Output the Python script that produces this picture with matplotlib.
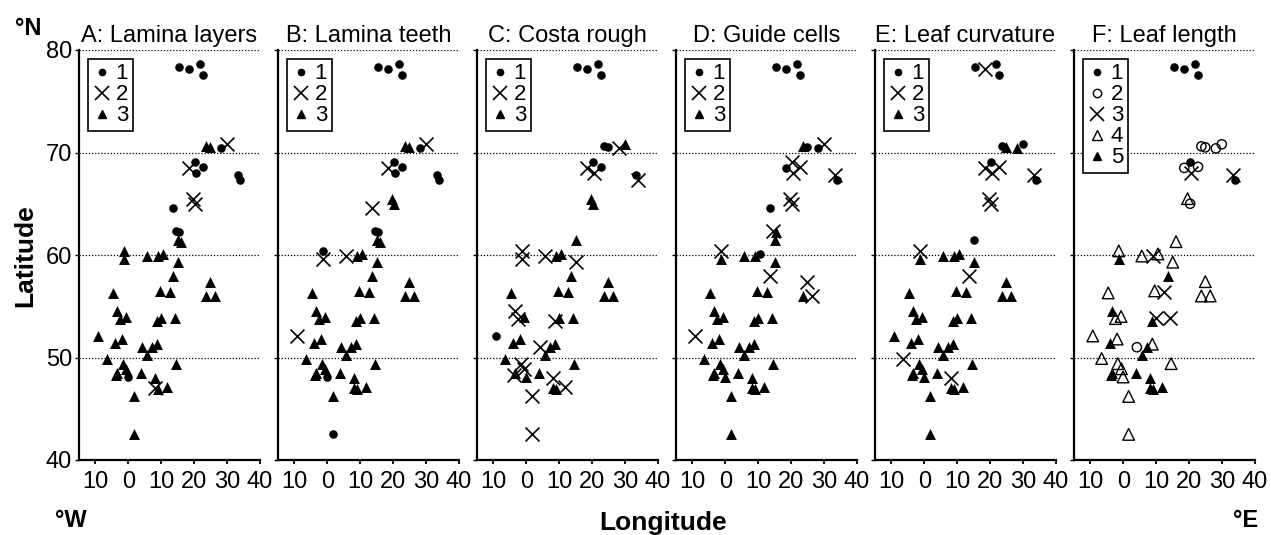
import numpy as np
import matplotlib
matplotlib.use("Agg")
import matplotlib.pyplot as plt
from matplotlib.lines import Line2D

plt.rcParams['font.family'] = ['Liberation Sans', 'DejaVu Sans']

# site positions (same sites in every panel), longitude east is positive
site_lon = [15.3, 18.5, 21.8, 22.7, 23.7, 24.9, 28.1, 29.9, 18.5, 20.4,
            20.6, 22.7, 33.4, 33.8, 19.5, 20.3, 13.7, 14.5, 15.5, 15.0,
            16.0, -1.4, -1.4, 5.6, 9.0, 10.5, 15.0, 13.5, -4.6, 9.5,
            12.5, 24.9, 23.7, 26.4, -3.4, -2.4, -0.7, 8.8, 10.0, 14.3,
            -9.3, -4.0, -1.9, -6.6, 4.1, 7.1, 8.8, 5.8, 14.5, -1.7,
            -0.6, -3.8, -3.4, -0.1, 3.8, 8.1, 8.1, 9.0, 11.7, 1.6,
            1.6]
site_lat = [78.3, 78.1, 78.6, 77.6, 70.6, 70.5, 70.4, 70.8, 68.5, 69.1,
            68.0, 68.6, 67.8, 67.3, 65.5, 65.0, 64.6, 62.3, 62.2, 61.5,
            61.3, 60.4, 59.6, 59.9, 59.9, 60.1, 59.3, 58.0, 56.3, 56.5,
            56.4, 57.4, 56.0, 56.0, 54.5, 53.8, 54.0, 53.6, 53.9, 53.9,
            52.1, 51.4, 51.8, 49.9, 51.0, 51.0, 51.3, 50.2, 49.4, 49.4,
            48.9, 48.3, 48.5, 48.1, 48.5, 48.0, 47.0, 46.9, 47.1, 46.2,
            42.5]

# character state per site, 0 = no data
lamina_layers = [1, 1, 1, 1, 3, 3, 1, 2, 2, 1,
                 1, 1, 1, 1, 2, 2, 1, 1, 1, 3,
                 3, 3, 3, 3, 3, 3, 3, 3, 3, 3,
                 3, 3, 3, 3, 3, 3, 3, 3, 3, 3,
                 3, 3, 3, 3, 3, 3, 3, 3, 3, 3,
                 3, 3, 3, 1, 3, 3, 2, 3, 3, 3,
                 3]
lamina_teeth = [1, 1, 1, 1, 3, 3, 1, 2, 2, 1,
                1, 1, 1, 1, 3, 3, 2, 1, 1, 3,
                3, 1, 2, 2, 3, 3, 3, 3, 3, 3,
                3, 3, 3, 3, 3, 3, 3, 3, 3, 3,
                2, 3, 3, 3, 3, 3, 3, 3, 3, 3,
                3, 3, 3, 1, 3, 3, 3, 3, 3, 3,
                1]
costa_rough = [1, 1, 1, 1, 1, 1, 2, 3, 2, 1,
               2, 1, 1, 2, 3, 3, 0, 0, 0, 3,
               0, 2, 2, 2, 3, 3, 2, 3, 3, 3,
               3, 3, 3, 3, 2, 2, 3, 2, 3, 3,
               1, 3, 3, 3, 2, 3, 3, 3, 3, 2,
               2, 2, 3, 3, 3, 2, 3, 3, 2, 2,
               2]
guide_cells = [1, 1, 1, 1, 3, 1, 1, 2, 1, 2,
               2, 2, 2, 1, 2, 2, 1, 2, 3, 3,
               0, 2, 3, 3, 3, 1, 3, 2, 3, 3,
               3, 2, 3, 2, 3, 3, 3, 3, 3, 3,
               2, 3, 3, 3, 3, 3, 3, 3, 3, 3,
               3, 3, 3, 3, 3, 3, 3, 3, 3, 3,
               3]
leaf_curvature = [1, 2, 1, 1, 1, 3, 3, 1, 2, 1,
                  2, 2, 2, 1, 2, 2, 0, 0, 0, 1,
                  0, 2, 3, 3, 3, 3, 3, 2, 3, 3,
                  3, 3, 3, 3, 3, 3, 3, 3, 3, 3,
                  3, 3, 3, 2, 3, 3, 3, 3, 3, 3,
                  3, 3, 3, 3, 3, 2, 3, 3, 3, 3,
                  3]
leaf_length = [1, 1, 1, 1, 2, 2, 2, 2, 2, 1,
               3, 2, 3, 1, 4, 2, 0, 0, 0, 0,
               4, 4, 5, 4, 3, 4, 4, 5, 4, 4,
               3, 4, 4, 4, 5, 4, 4, 5, 3, 3,
               4, 5, 4, 4, 2, 5, 4, 5, 4, 4,
               4, 5, 5, 4, 5, 5, 5, 5, 5, 4,
               4]

titles = ["A: Lamina layers", "B: Lamina teeth", "C: Costa rough",
          "D: Guide cells", "E: Leaf curvature", "F: Leaf length"]
panels = [lamina_layers, lamina_teeth, costa_rough, guide_cells,
          leaf_curvature, leaf_length]

xticks = [-10, 0, 10, 20, 30, 40]
xticklabels = ["10", "0", "10", "20", "30", "40"]
yticks = [40, 50, 60, 70, 80]

# marker styles: three-state panels and the five-state leaf length panel
style3 = {1: dict(marker='o', s=38, c='k', linewidths=0),
          2: dict(marker='x', s=100, c='k', linewidths=1.2),
          3: dict(marker='^', s=62, c='k', linewidths=0)}
style5 = {1: dict(marker='o', s=38, c='k', linewidths=0),
          2: dict(marker='o', s=44, facecolors='none', edgecolors='k', linewidths=1.0),
          3: dict(marker='x', s=100, c='k', linewidths=1.2),
          4: dict(marker='^', s=70, facecolors='none', edgecolors='k', linewidths=1.0),
          5: dict(marker='^', s=62, c='k', linewidths=0)}
leg3 = {1: dict(marker='o', markersize=4.5, color='k'),
        2: dict(marker='x', markersize=9.5, color='k', markeredgewidth=1.2),
        3: dict(marker='^', markersize=5.5, color='k')}
leg5 = {1: dict(marker='o', markersize=4.5, color='k'),
        2: dict(marker='o', markersize=6, color='k', mfc='none'),
        3: dict(marker='x', markersize=9.5, color='k', markeredgewidth=1.2),
        4: dict(marker='^', markersize=7, color='k', mfc='none'),
        5: dict(marker='^', markersize=5.5, color='k')}

lon = np.array(site_lon)
lat = np.array(site_lat)

fig = plt.figure(figsize=(12.71, 5.35), dpi=100)

for i in range(6):
    ax = fig.add_axes([(79 + 199 * i) / 1271, 75 / 535, 181 / 1271, 410 / 535])
    cls = np.array(panels[i])
    if i == 5:
        style, leg, order = style5, leg5, [5, 4, 2, 1, 3]
    else:
        style, leg, order = style3, leg3, [3, 1, 2]

    for k in order:
        m = cls == k
        ax.scatter(lon[m], lat[m], zorder=3, **style[k])

    ax.set_xlim(-15, 40)
    ax.set_ylim(40, 80)
    ax.set_xticks(xticks)
    ax.set_xticklabels(xticklabels)
    ax.set_yticks(yticks)
    if i > 0:
        ax.set_yticklabels([])
    ax.tick_params(axis='x', length=3, width=1.3, pad=5, labelsize=17)
    ax.tick_params(axis='y', length=3, width=1.0, pad=2, labelsize=17)
    ax.grid(axis='y', linestyle=(0, (1, 1.5)), color='k', linewidth=0.9)
    ax.set_axisbelow(True)
    for sp in ['top', 'right']:
        ax.spines[sp].set_visible(False)
    for sp in ['left', 'bottom']:
        ax.spines[sp].set_linewidth(1.6)
    ax.set_title(titles[i], fontsize=17, pad=6)

    handles = [Line2D([], [], linestyle='none', **leg[k]) for k in sorted(leg)]
    labels = [str(k) for k in sorted(leg)]
    lg = ax.legend(handles, labels, loc='upper left', fontsize=16,
                   borderpad=0.2, handlelength=0.9, handletextpad=0.15,
                   labelspacing=0.0, borderaxespad=0.4, fancybox=False,
                   framealpha=1, edgecolor='k')
    lg.get_frame().set_linewidth(1.2)

fig.text(0.0118, 1 - 35 / 535, "°N", fontsize=17, fontweight='bold', va='baseline')
fig.text(0.043, 1 - 527 / 535, "°W", fontsize=17, fontweight='bold', va='baseline')
fig.text(0.970, 1 - 527 / 535, "°E", fontsize=17, fontweight='bold', va='baseline')
fig.text(0.522, 1 - 530 / 535, "Longitude", fontsize=19, fontweight='bold',
         ha='center', va='baseline')
fig.text(0.020, 0.523, "Latitude", fontsize=19, fontweight='bold',
         rotation=90, ha='center', va='center')

fig.savefig("out.png", dpi=100)
